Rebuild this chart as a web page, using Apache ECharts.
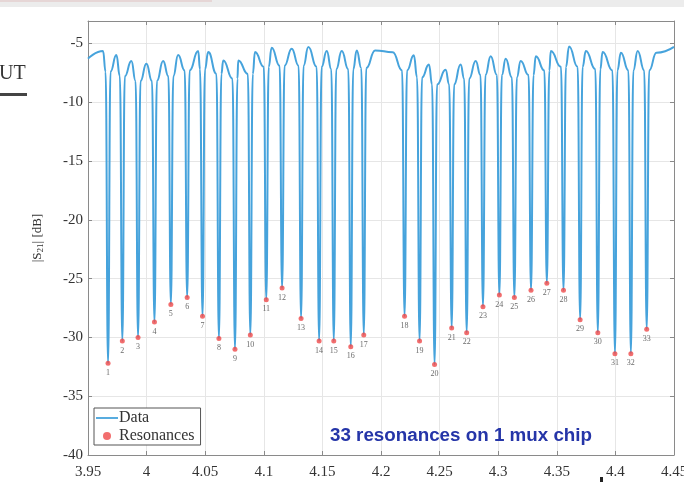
<!DOCTYPE html>
<html>
<head>
<meta charset="utf-8">
<script src="https://cdn.jsdelivr.net/npm/echarts@6/dist/echarts.min.js"></script>
<style>
  html, body { margin: 0; padding: 0; background: #fff; }
  #main { width: 684px; height: 482px; }
</style>
</head>
<body>
<div id="main"></div>
<script>
// resonance frequencies (GHz) and depths (dB)
var resFreq = [3.9671, 3.9793, 3.9927, 4.0067, 4.0207, 4.0346, 4.0477, 4.0617, 4.0754, 4.0885,
               4.1021, 4.1156, 4.1318, 4.1472, 4.1597, 4.1742, 4.1853, 4.2201, 4.2329, 4.2457,
               4.2603, 4.2731, 4.2870, 4.3010, 4.3138, 4.3280, 4.3415, 4.3557, 4.3699, 4.3850,
               4.3996, 4.4132, 4.4267];
var resDepth = [-32.2, -30.3, -30.0, -28.7, -27.2, -26.6, -28.2, -30.1, -31.0, -29.8,
                -26.8, -25.8, -28.4, -30.3, -30.3, -30.8, -29.8, -28.2, -30.3, -32.3,
                -29.2, -29.6, -27.4, -26.4, -26.6, -26.0, -25.4, -26.0, -28.5, -29.6,
                -31.4, -31.4, -29.3];
// level where each dip wall turns vertical
var wallDb = [-7.4, -7.8, -8.2, -8.2, -7.8, -7.3, -7.2, -7.6, -8.0, -7.6,
              -7.0, -6.9, -6.9, -7.0, -7.2, -7.2, -7.1, -7.3, -7.9, -8.5,
              -8.5, -8.0, -7.7, -7.7, -7.9, -7.7, -7.3, -7.0, -7.0, -7.2,
              -7.3, -7.3, -7.3];
// baseline peaks between the dips
var archFreq = [3.9500, 3.9628, 3.9742, 3.9870, 3.9998, 4.0141, 4.0269, 4.0440, 4.0526, 4.0654,
                4.0782, 4.0925, 4.1067, 4.1238, 4.1380, 4.1537, 4.1665, 4.1793, 4.1950, 4.2100,
                4.2280, 4.2409, 4.2551, 4.2679, 4.2808, 4.2936, 4.3064, 4.3192, 4.3321, 4.3449,
                4.3605, 4.3748, 4.3891, 4.4047, 4.4190, 4.4350, 4.4500];
var archDb = [-6.3, -5.65, -6.0, -6.5, -6.73, -6.5, -6.0, -5.65, -5.74, -6.45,
              -6.45, -5.74, -5.37, -5.45, -5.31, -5.65, -5.65, -5.6, -5.6, -5.75,
              -6.02, -6.8, -7.25, -6.8, -6.5, -6.1, -6.3, -6.5, -6.1, -5.65,
              -5.26, -5.65, -5.74, -5.8, -5.65, -5.8, -5.3];
var xTicks = ['3.95', '4', '4.05', '4.1', '4.15', '4.2', '4.25', '4.3', '4.35', '4.4', '4.45'];

var halfWidth = 0.0021;
var lineData = [];
var j = 0;
resFreq.forEach(function (f, i) {
    while (j < archFreq.length && archFreq[j] < f) {
        lineData.push([archFreq[j], archDb[j]]);
        j++;
    }
    lineData.push([f - halfWidth, wallDb[i]]);
    lineData.push([f, resDepth[i]]);
    lineData.push([f + halfWidth, wallDb[i]]);
});
while (j < archFreq.length) {
    lineData.push([archFreq[j], archDb[j]]);
    j++;
}
var resData = resFreq.map(function (f, i) { return [f, resDepth[i]]; });

var serif = '"Liberation Serif", "DejaVu Serif", serif';
var chart = echarts.init(document.getElementById('main'));
var axisCol = '#8a8a8a';
var tickStyle = { show: true, inside: true, length: 4, lineStyle: { color: axisCol } };

chart.setOption({
    animation: false,
    backgroundColor: '#ffffff',
    grid: { left: 88, right: 10, top: 21, bottom: 27, containLabel: false, outerBoundsMode: 'none' },
    legend: {
        left: 94, top: 408, orient: 'vertical',
        backgroundColor: '#fff', borderColor: '#555', borderWidth: 1,
        padding: [2, 6, 1, 2], itemGap: 2, itemWidth: 22, itemHeight: 8,
        textStyle: { fontFamily: serif, fontSize: 16, color: '#333', padding: [0, 0, 0, -4] },
        data: [
            { name: 'Data', icon: 'path://M0,0 L22,0 L22,1.8 L0,1.8 Z' },
            { name: 'Resonances', icon: 'circle' }
        ]
    },
    xAxis: [{
        type: 'value', min: 3.95, max: 4.45, interval: 0.05,
        axisLine: { show: true, lineStyle: { color: axisCol } },
        axisTick: tickStyle,
        axisLabel: {
            fontFamily: serif, fontSize: 15, color: '#333', margin: 10,
            formatter: function (v) { return xTicks[Math.round((v - 3.95) / 0.05)]; }
        },
        splitLine: { show: true, lineStyle: { color: '#e6e6e6' } }
    }, {
        type: 'value', position: 'top', min: 3.95, max: 4.45, interval: 0.05,
        axisLine: { show: true, lineStyle: { color: axisCol } },
        axisTick: tickStyle, axisLabel: { show: false }, splitLine: { show: false }
    }],
    yAxis: [{
        type: 'value', min: -40, max: -3.1, interval: 5,
        name: '|S{s|21}| [dB]', nameLocation: 'middle', nameRotate: 90, nameGap: 43,
        nameTextStyle: {
            fontFamily: serif, fontSize: 13, color: '#333',
            rich: { s: { fontFamily: serif, fontSize: 9, color: '#333', verticalAlign: 'bottom', padding: [5, 0, 0, 0] } }
        },
        axisLine: { show: true, lineStyle: { color: axisCol } },
        axisTick: tickStyle,
        axisLabel: { fontFamily: serif, fontSize: 15, color: '#333', margin: 5, showMaxLabel: false },
        splitLine: { show: true, lineStyle: { color: '#e6e6e6' } }
    }, {
        type: 'value', position: 'right', min: -40, max: -3.1, interval: 5,
        axisLine: { show: true, lineStyle: { color: axisCol } },
        axisTick: tickStyle, axisLabel: { show: false }, splitLine: { show: false }
    }],
    series: [{
        name: 'Data', type: 'line', data: lineData,
        symbol: 'none', smooth: 0.5, smoothMonotone: 'x',
        lineStyle: { color: '#46a3dc', width: 2 },
        itemStyle: { color: '#46a3dc' },
        z: 2
    }, {
        name: 'Resonances', type: 'scatter', data: resData,
        symbol: 'circle', symbolSize: 5,
        itemStyle: { color: '#ef4a4a' },
        label: {
            show: true, position: 'bottom', distance: 3,
            fontFamily: serif, fontSize: 8, color: '#444',
            formatter: function (p) { return String(p.dataIndex + 1); }
        },
        z: 3
    }],
    graphic: [
        { type: 'rect', shape: { x: 0, y: 0, width: 684, height: 7 }, style: { fill: '#ececec' }, z: 100 },
        { type: 'rect', shape: { x: 0, y: 0, width: 212, height: 2 }, style: { fill: '#e6d6d6' }, z: 101 },
        { type: 'text', left: -1, top: 64, style: { text: 'UT', font: '20px ' + serif, fill: '#333' } },
        { type: 'rect', shape: { x: 0, y: 93, width: 27, height: 3 }, style: { fill: '#444' } },
        {
            type: 'text', left: 330, top: 426, z: 100,
            style: { text: '33 resonances on 1 mux chip', font: 'bold 18.8px "Liberation Sans", Arial, sans-serif', fill: '#2535a8' }
        },
        { type: 'rect', shape: { x: 600, y: 477, width: 3, height: 5 }, style: { fill: '#222' } }
    ]
});
</script>
</body>
</html>
